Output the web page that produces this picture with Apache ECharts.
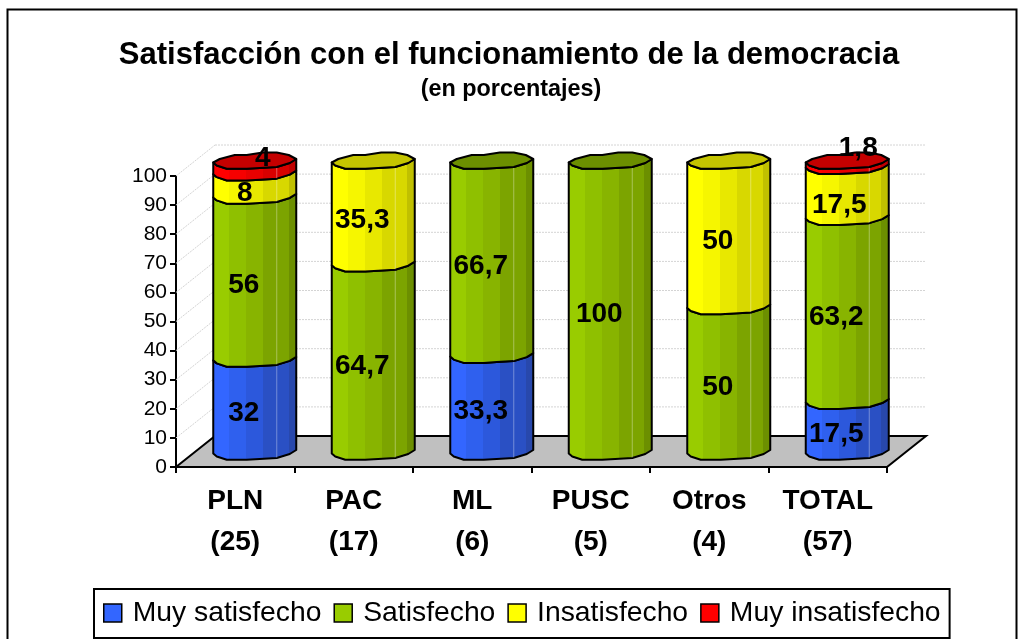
<!DOCTYPE html>
<html><head><meta charset="utf-8">
<style>html,body{margin:0;padding:0;background:#fff}#c{width:1027px;height:639px}</style>
<script src="https://cdn.jsdelivr.net/npm/echarts@6/dist/echarts.min.js"></script>
</head><body><div id="c"></div>
<script>
const categories = ['PLN\n(25)','PAC\n(17)','ML\n(6)','PUSC\n(5)','Otros\n(4)','TOTAL\n(57)'];
const muySatisfecho = [32,0,33.3,0,0,17.5];
const satisfecho = [56,64.7,66.7,100,50,63.2];
const insatisfecho = [8,35.3,0,0,50,17.5];
const muyInsatisfecho = [4,0,0,0,0,1.8];
const seriesNames = ['Muy satisfecho','Satisfecho','Insatisfecho','Muy insatisfecho'];
const yTicks = [10,20,30,40,50,60,70,80,90,100];
const title = 'Satisfacción con el funcionamiento de la democracia';
const subtitle = '(en porcentajes)';

// Styling
const FONT = '"Liberation Sans", Arial, sans-serif';
const DEPTH = [39,-31];
const palette = [
 {c:['#3366ff','#2f60ee','#2c58dc','#2a50c4','#2848ac'],top:'#2848ac'},
 {c:['#99cc00','#8fc000','#88b400','#7ca400','#6c8f00'],top:'#6c8f00'},
 {c:['#ffff00','#f6f600','#e8e800','#d8d800','#c0c000'],top:'#c4c400'},
 {c:['#ff0000','#f60000','#e80000','#d80000','#c00000'],top:'#c40000'}
];
// outline of the slightly irregular cylinder section (x,y in px from centre)
const frontArc = [[-41.5,2],[-38,5],[-28,8.3],[-8,8.3],[5,7.5],[22,6.5],[35,2.5],[41.5,-1.5]];
const backArc = [[41.5,-1.5],[34,-5.5],[22,-8],[8,-8],[-8,-5.5],[-20,-5.5],[-35,-1.5],[-41.5,2]];
const labelNudge = {'0-3':[19,-17],'0-2':[1,1],'5-3':[22,-23],'5-2':[3,6]};

function bandFill(pal){
  const stops=[0,.2,.2,.4,.4,.6,.6,.76,.76,.9,.9,1];
  const cols=[pal.c[0],pal.c[0],pal.c[1],pal.c[1],pal.c[2],pal.c[2],pal.c[3],pal.c[3],pal.c[3],pal.c[3],pal.c[4],pal.c[4]];
  return {type:'linear',x:0,y:0,x2:1,y2:0,colorStops:stops.map((o,i)=>({offset:o,color:cols[i]}))};
}
const values=[muySatisfecho,satisfecho,insatisfecho,muyInsatisfecho];
function plotEnds(api){
  const half=api.size([1,0])[0]/2;
  return [api.coord([0,0])[0]-half, api.coord([categories.length-1,0])[0]+half];
}
function cylinderSeries(si){
  const data=categories.map((_,i)=>{
    let s=0; for(let k=0;k<si;k++) s+=values[k][i];
    return [i,s,s+values[si][i],values[si][i]];
  });
  return {
    type:'custom',name:seriesNames[si],coordinateSystem:'cartesian2d',z:5,
    itemStyle:{color:palette[si].c[0]},
    encode:{x:0,y:[1,2]},
    data:data,
    clip:false,
    renderItem:function(p,api){
      const i=api.value(0),a=api.value(1),b=api.value(2),v=api.value(3);
      if(!v) return null;
      const mid=[DEPTH[0]/2,DEPTH[1]/2];
      const p0=api.coord([i,a]),p1=api.coord([i,b]);
      const cx=p0[0]+mid[0],y0=p0[1]+mid[1],y1=p1[1]+mid[1];
      const side=frontArc.map(q=>[cx+q[0],y0+q[1]]).concat(frontArc.slice().reverse().map(q=>[cx+q[0],y1+q[1]]));
      const kids=[{type:'polygon',shape:{points:side},style:{fill:bandFill(palette[si]),stroke:'#000',lineWidth:2,lineJoin:'round'}}];
      kids.push({type:'line',shape:{x1:cx+22,y1:y0+6,x2:cx+22,y2:y1+7},style:{stroke:'rgba(255,255,255,.35)',lineWidth:1}});
      const isTop=Math.abs(b-100)<.01;
      if(isTop){
        const top=frontArc.concat(backArc.slice(1,-1)).map(q=>[cx+q[0],y1+q[1]]);
        kids.push({type:'polygon',shape:{points:top},style:{fill:palette[si].top,stroke:'#000',lineWidth:2,lineJoin:'round'}});
      }
      const n=labelNudge[i+'-'+si]||[0,0];
      const lv=api.coord([i,(a+b)/2]);
      kids.push({type:'text',z2:50,style:{x:lv[0]+DEPTH[0]/4+n[0]-1.25,y:lv[1]+DEPTH[1]/4+n[1]+.75,text:String(v).replace('.',','),
        font:'bold 28px '+FONT,fill:'#000',align:'center',verticalAlign:'middle'}});
      return {type:'group',children:kids};
    }
  };
}
const wallSeries={
  type:'custom',coordinateSystem:'cartesian2d',z:1,silent:true,clip:false,tooltip:{show:false},
  data:yTicks.map(t=>[0,t]),encode:{x:0,y:1},
  renderItem:function(p,api){
    const t=api.value(1);
    const e=plotEnds(api),y=api.coord([0,t])[1];
    const s={stroke:'#d4d4d4',lineWidth:1,lineDash:[2,1]};
    return {type:'group',children:[
      {type:'line',shape:{x1:e[0],y1:y,x2:e[0]+DEPTH[0],y2:y+DEPTH[1]},style:s},
      {type:'line',shape:{x1:e[0]+DEPTH[0],y1:y+DEPTH[1],x2:e[1]+DEPTH[0],y2:y+DEPTH[1]},style:s}
    ]};
  }
};
const floorSeries={
  type:'custom',coordinateSystem:'cartesian2d',z:2,silent:true,clip:false,tooltip:{show:false},
  data:[[0,0]],encode:{x:0,y:1},
  renderItem:function(p,api){
    const e=plotEnds(api),y=api.coord([0,0])[1];
    return {type:'polygon',shape:{points:[[e[0],y],[e[1],y],[e[1]+DEPTH[0],y+DEPTH[1]],[e[0]+DEPTH[0],y+DEPTH[1]]]},
      style:{fill:'#c0c0c0',stroke:'#000',lineWidth:2}};
  }
};
const chart=echarts.init(document.getElementById('c'),null,{renderer:'canvas'});
chart.setOption({
  animation:false,
  backgroundColor:'#fff',
  graphic:[{type:'rect',z:-1,shape:{x:7.5,y:9.5,width:1009,height:640},style:{fill:'#fff',stroke:'#000',lineWidth:2}}],
  title:[
    {text:title,left:504,top:35,textAlign:'center',textStyle:{fontFamily:FONT,fontWeight:'bold',fontSize:31,color:'#000'}},
    {text:subtitle,left:506,top:73,textAlign:'center',textStyle:{fontFamily:FONT,fontWeight:'bold',fontSize:23.4,color:'#000'}}
  ],
  grid:{left:176,top:176,width:711,height:291,containLabel:false},
  xAxis:{type:'category',data:categories,z:6,
    axisLine:{show:true,onZero:false,lineStyle:{color:'#000',width:2}},
    axisTick:{show:true,length:6,lineStyle:{color:'#000',width:2}},
    axisLabel:{fontFamily:FONT,fontWeight:'bold',fontSize:28,lineHeight:41,color:'#000',margin:14,interval:0}},
  yAxis:{type:'value',min:0,max:100,interval:10,
    splitLine:{show:false},
    axisLine:{show:true,lineStyle:{color:'#000',width:2}},
    axisTick:{show:true,length:6,lineStyle:{color:'#000',width:2}},
    axisLabel:{fontFamily:FONT,fontSize:21,color:'#000',margin:9}},
  legend:{show:true,left:94,top:589,padding:[10,9,11,9],itemGap:12,itemWidth:18,itemHeight:18,
    borderColor:'#000',borderWidth:2,backgroundColor:'#fff',icon:'rect',
    data:seriesNames.map((n,i)=>({name:n,icon:'rect',itemStyle:{color:palette[i].c[0],borderColor:'#000',borderWidth:1.5}})),
    textStyle:{fontFamily:FONT,fontSize:28.3,color:'#000',padding:[0,0,0,6]}},
  series:[wallSeries,floorSeries,cylinderSeries(0),cylinderSeries(1),cylinderSeries(2),cylinderSeries(3)]
});
</script></body></html>
